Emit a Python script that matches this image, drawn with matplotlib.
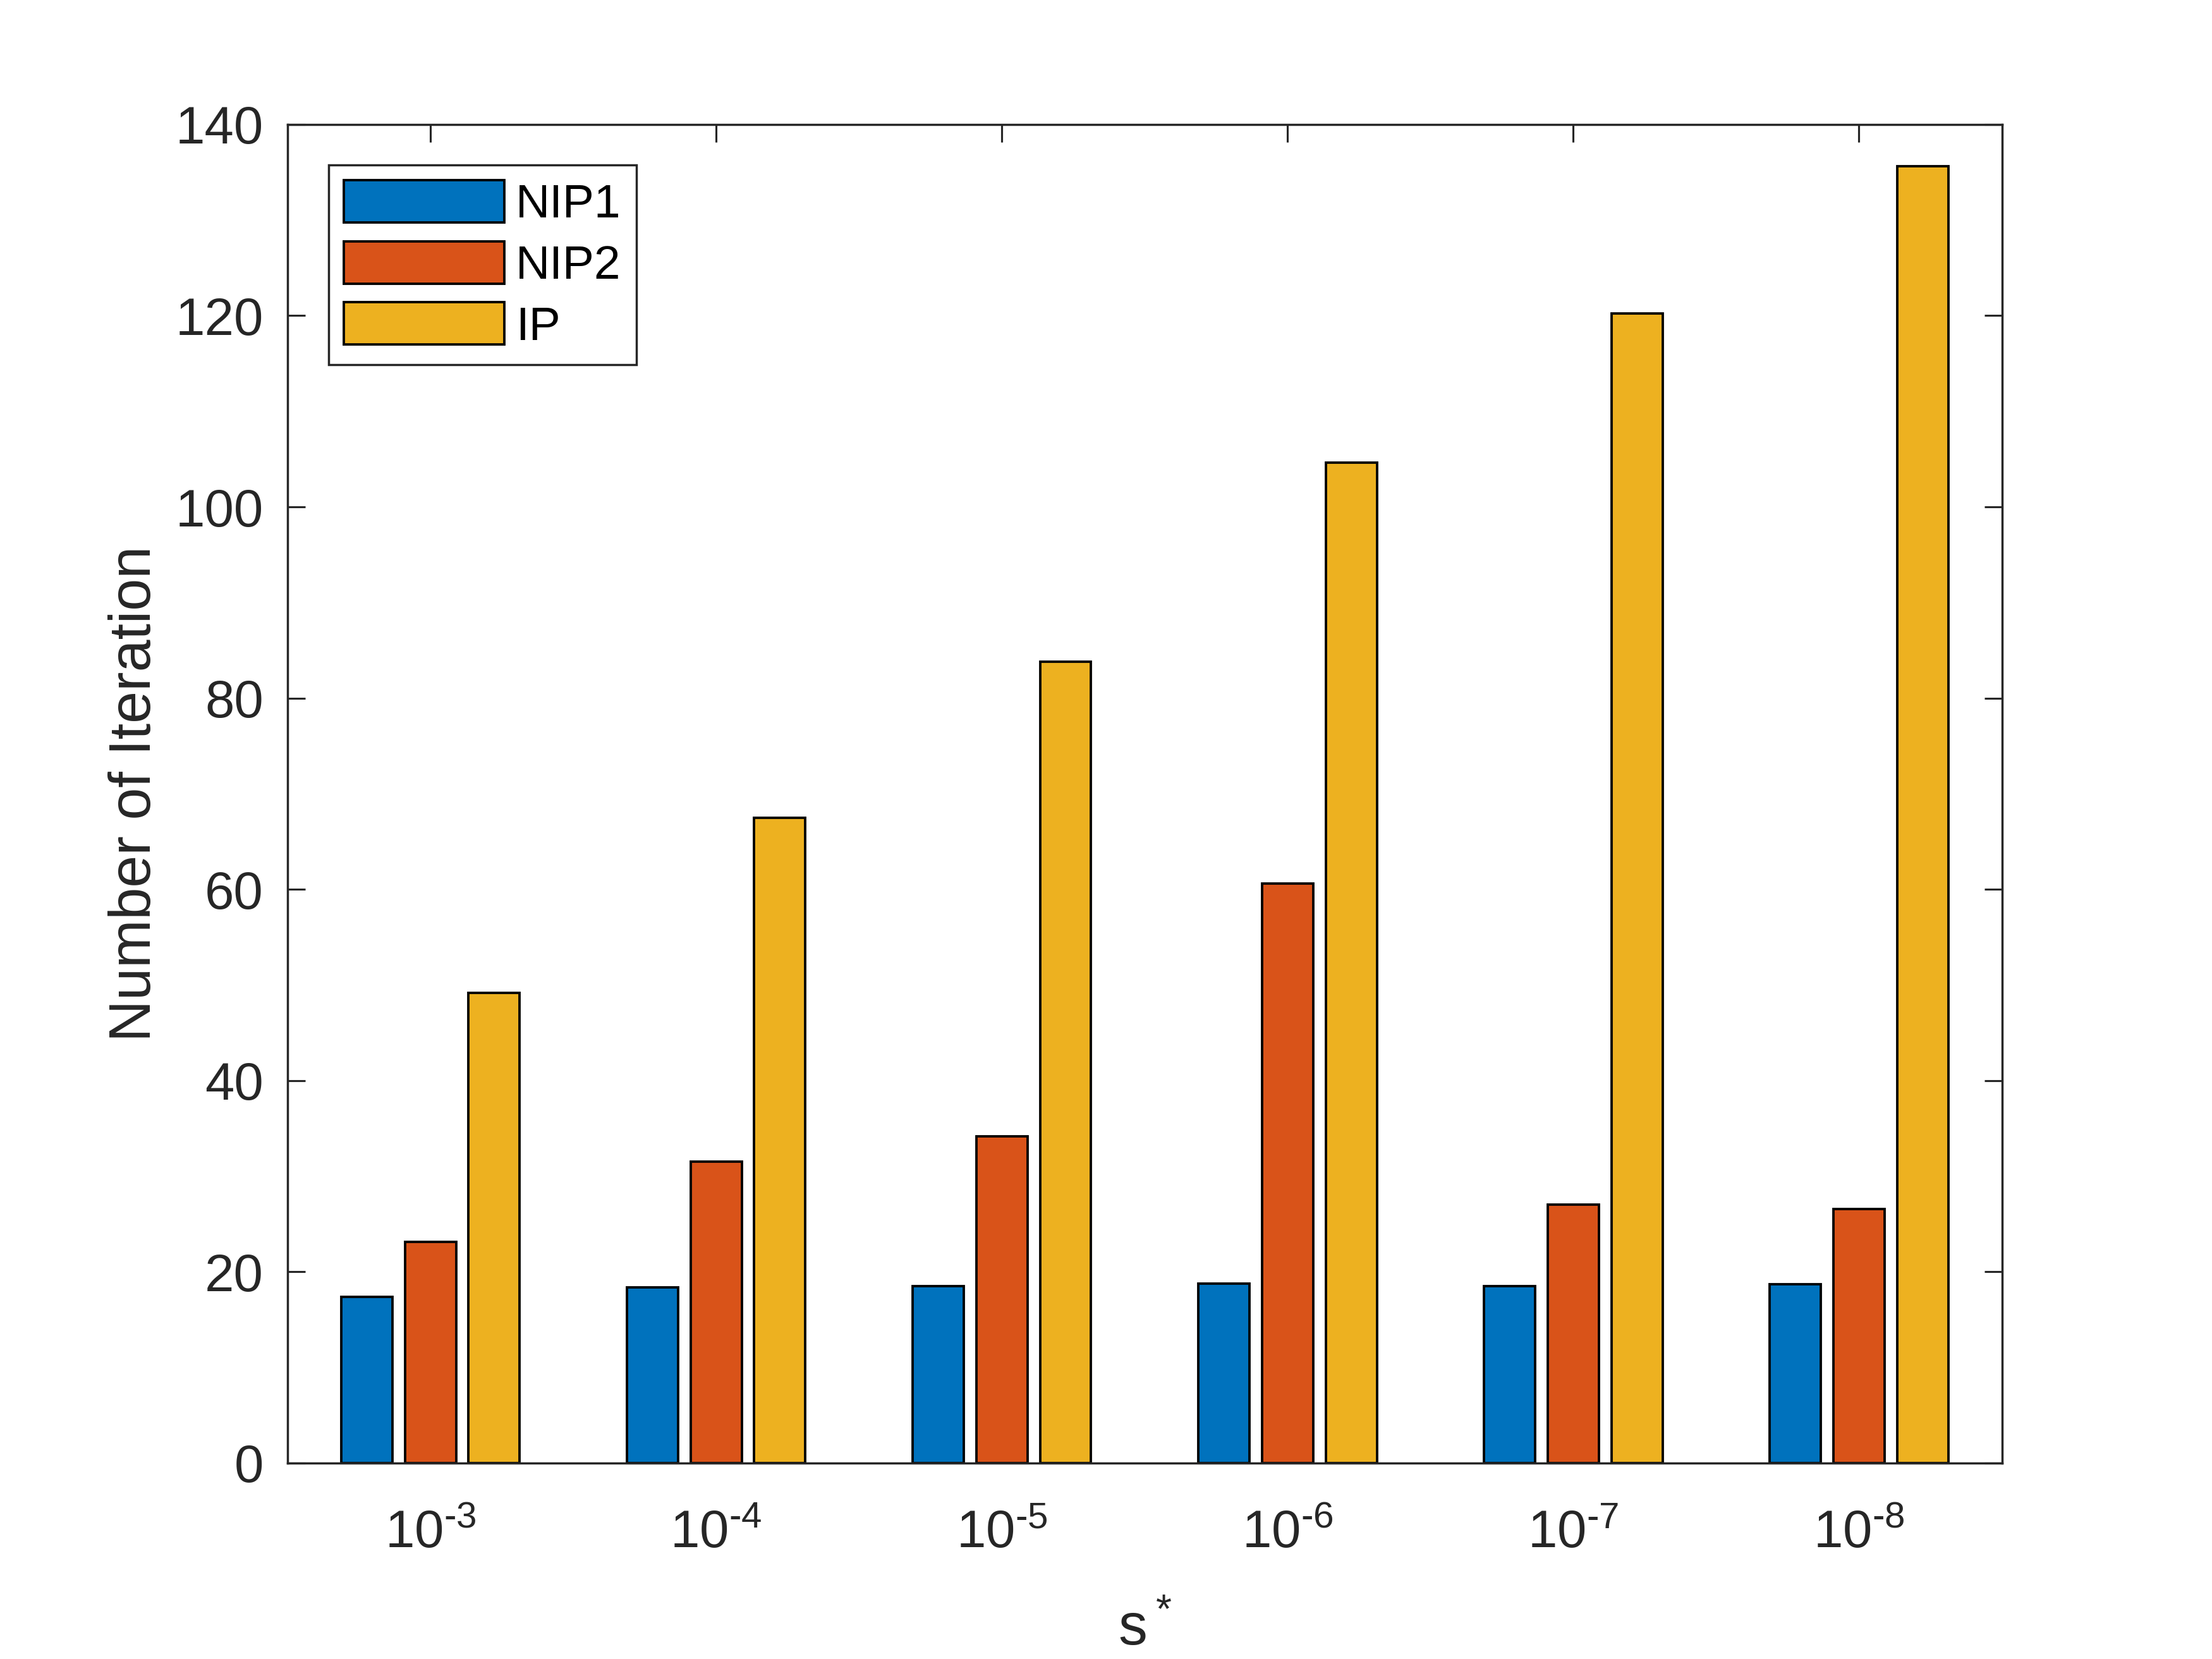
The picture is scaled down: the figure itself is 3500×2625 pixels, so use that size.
import numpy as np
import matplotlib
matplotlib.use("Agg")
import matplotlib.pyplot as plt

# === data ===
exponents = [-3, -4, -5, -6, -7, -8]
series_names = ["NIP1", "NIP2", "IP"]
nip1 = [17.4, 18.4, 18.5, 18.8, 18.5, 18.7]
nip2 = [23.1, 31.5, 34.2, 60.6, 27.0, 26.6]
ip = [49.2, 67.5, 83.8, 104.6, 120.2, 135.6]

colors = ["#0072BD", "#D95319", "#EDB120"]
AX_COLOR = "#262626"

plt.rcParams["font.family"] = ["Liberation Sans", "DejaVu Sans"]
plt.rcParams["mathtext.fontset"] = "custom"
plt.rcParams["mathtext.rm"] = "Liberation Sans"

fig = plt.figure(figsize=(14, 10.5), dpi=250)
ax = fig.add_axes([0.13, 0.1181, 0.775, 0.8069])

x = np.arange(1, len(exponents) + 1)
offset = 0.223
width = 0.179
for i, vals in enumerate([nip1, nip2, ip]):
    ax.bar(x + (i - 1) * offset, vals, width, color=colors[i],
           edgecolor="black", linewidth=1.1, label=series_names[i], zorder=2)

ax.set_xlim(0.5, len(exponents) + 0.5)
ax.set_ylim(0, 140)
ax.set_yticks(np.arange(0, 141, 20))
ax.set_xticks(x)
# MATLAB draws a short hyphen in the exponent, not a minus sign
ax.set_xticklabels(["$\\mathregular{10^{\u2010%d}}$" % abs(e) for e in exponents])

ax.tick_params(direction="in", length=8, width=0.9, top=True, right=True,
               labelsize=24, colors=AX_COLOR, pad=11)
ax.tick_params(axis="x", pad=21)
for s in ax.spines.values():
    s.set_linewidth(1.0)
    s.set_color(AX_COLOR)

ax.set_ylabel("Number of Iteration", fontsize=26.4, color=AX_COLOR, labelpad=6)
ax.set_xlabel(r"$\mathregular{s^*}$", fontsize=26.4, color=AX_COLOR, labelpad=20)

leg = ax.legend(loc="upper left", bbox_to_anchor=(0.024, 0.9698), borderaxespad=0,
                fontsize=21.6, handlelength=3.39, handleheight=1.0, labelspacing=0.3,
                handletextpad=0.24, borderpad=0.32, fancybox=False, framealpha=1)
leg.get_frame().set_edgecolor(AX_COLOR)
leg.get_frame().set_linewidth(1.0)

fig.savefig("out.png", dpi=250)
